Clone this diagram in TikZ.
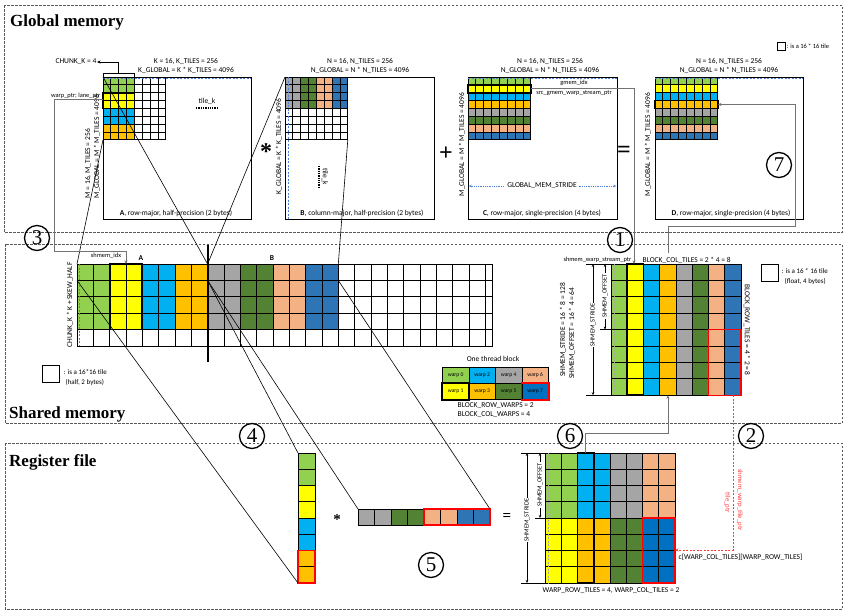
\documentclass[tikz,border=0pt]{standalone}
\usepackage{fontspec}
\setmainfont{Liberation Serif}
\newfontfamily\calib{Carlito}
\newfontfamily\tms{Liberation Serif}
\usetikzlibrary{arrows.meta,calc}
\definecolor{cG}{HTML}{92D050}
\definecolor{cY}{HTML}{FFFF00}
\definecolor{cC}{HTML}{00B0F0}
\definecolor{cO}{HTML}{FFC000}
\definecolor{cS}{HTML}{A5A5A5}
\definecolor{cD}{HTML}{548235}
\definecolor{cP}{HTML}{F4B183}
\definecolor{cB}{HTML}{2E75B6}
\definecolor{cBB}{HTML}{0070C0}
\definecolor{cLB}{HTML}{4F81D9}
\definecolor{cRd}{HTML}{FF3B3B}
\newcommand\lblfont{\calib\fontsize{7.5}{8}\selectfont}
\newcommand\midfont{\calib\fontsize{7}{8}\selectfont}
\newcommand\smlfont{\calib\fontsize{6.4}{7}\selectfont}
\newcommand\redfont{\calib\fontsize{6.8}{7}\selectfont}
\newcommand\wfont{\calib\fontsize{5.6}{6}\selectfont}
\newcommand\ttlfont{\tms\bfseries\fontsize{17}{18}\selectfont}
\newcommand\circfont{\tms\fontsize{21}{21}\selectfont}
\newcommand\opfont{\tms\bfseries\fontsize{24}{24}\selectfont}
\newcommand\mkgrid[6]{%
  \foreach \ii in {0,...,#5}{\draw[gline] ({#1+\ii*#3},{#2}) -- ++(0,{#6*#4});}%
  \foreach \jj in {0,...,#6}{\draw[gline] ({#1},{#2+\jj*#4}) -- ++({#5*#3},0);}%
}
\begin{document}
\begin{tikzpicture}[x=1pt,y=-1pt,
  lbl/.style={font=\lblfont, inner sep=0.5pt},
  mid/.style={font=\midfont, inner sep=0.5pt},
  sml/.style={font=\smlfont, inner sep=0.5pt},
  ttl/.style={font=\ttlfont, inner sep=0pt},
  circnum/.style={circle, draw, line width=1.3pt, minimum size=25pt, inner sep=0pt, font=\circfont},
  opsym/.style={font=\opfont, inner sep=0pt},
  gline/.style={line width=0.75pt, draw=black},
  thk/.style={line width=1.7pt, draw=black},
  redb/.style={line width=1.4pt, draw=red},
  bigbox/.style={draw, line width=0.9pt, inner sep=0pt, anchor=north west},
  conn/.style={line width=0.7pt, draw=black!55},
  xline/.style={line width=0.6pt, draw=black},
  bdash/.style={draw=cLB, line width=0.6pt, dash pattern=on 2pt off 1.5pt},
  panel/.style={draw=black!65, dash pattern=on 2.5pt off 1.5pt, line width=0.6pt},
  arr/.style={-{Stealth[length=3.5pt,width=3pt]}},
  dimarr/.style={{Stealth[length=3pt,width=2.5pt]}-{Stealth[length=3pt,width=2.5pt]}, line width=0.6pt},
  wcell/.style={draw, line width=0.8pt, minimum width=26.5pt, minimum height=16pt, inner sep=0pt, font=\wfont, anchor=north west},
  redtxt/.style={font=\redfont, inner sep=0.5pt, text=cRd}
]
\useasboundingbox (0,0) rectangle (846,611);
\fill[white] (0,0) rectangle (846,611);

% ---------- panels
\draw[panel] (4,5) rectangle (842,232);
\draw[panel] (5,244) rectangle (842,423);
\draw[panel] (5,443) rectangle (842,609);
\node[ttl, anchor=base west] (tG) at (10,26) {Global memory};
\node[ttl, anchor=base west] (tS) at (9,418) {Shared memory};
\node[ttl, anchor=base west] (tR) at (9,466) {Register file};

% top-right legend
\node[draw, line width=0.8pt, minimum size=8pt, inner sep=0pt] (lg1) at (781,46) {};
\node[sml, anchor=west] (lg1t) at (786,46) {: is a 16 * 16 tile};

% ================= Global A
\node[bigbox, minimum width=148pt, minimum height=142pt] (Abig) at (103,77) {};
\foreach \r/\cc in {0/cG,1/cG,2/cY,3/cY,4/cC,5/cC,6/cO,7/cO}
  \fill[\cc] (103,{77+\r*7.85}) rectangle ++(31.4,7.85);
\mkgrid{103}{77}{7.85}{7.85}{8}{8}
\draw[thk] (103,{77+2*7.85}) rectangle ++(31.4,15.7);
\draw[bdash] (103,78) -- (251,78);
\node[lbl] (Ak1) at (186,61) {K = 16, K\_TILES = 256};
\node[lbl] (Ak2) at (186,70) {K\_GLOBAL = K * K\_TILES = 4096};
\node[lbl, rotate=90, anchor=west] (Am1) at (88,199) {M = 16, M\_TILES = 256};
\node[lbl, rotate=90, anchor=west] (Am2) at (97,199) {M\_GLOBAL = M * M\_TILES = 4096};
\node[lbl] (Atk) at (207,101) {tile\_k};
\draw[densely dotted, line width=1.3pt] (196,108) -- (217,108);
\node[lbl] (Acap) at (176,213) {\textbf{A}, row-major, half-precision (2 bytes)};
\node[draw, line width=0.6pt, minimum width=31.4pt, minimum height=4pt, inner sep=0pt] (chb) at (118.7,75) {};
\node[lbl, anchor=east] (chk) at (97,62) {CHUNK\_K = 4};
\draw[line width=0.6pt, arr] (chb.north) |- (chk.east);
\node[sml, anchor=base east] (wp) at (101,97) {warp\_ptr; lane\_ptr};

% ================= Global B
\node[bigbox, minimum width=149pt, minimum height=142pt] (Bbig) at (285,77) {};
\foreach \c/\cc in {0/cS,1/cS,2/cD,3/cD,4/cP,5/cP,6/cB,7/cB}
  \fill[\cc] ({285+\c*7.85},77) rectangle ++(7.85,31.4);
\mkgrid{285}{77}{7.85}{7.85}{8}{8}
\draw[bdash] (288,77) -- (288,219);
\node[lbl] (Bn1) at (360,61) {N = 16, N\_TILES = 256};
\node[lbl] (Bn2) at (360,70) {N\_GLOBAL = N * N\_TILES = 4096};
\node[lbl, rotate=90, anchor=west] (Bk) at (279,195) {K\_GLOBAL = K * K\_TILES = 4096};
\node[lbl, rotate=-90] (Btk) at (325,177) {tile\_k};
\draw[densely dotted, line width=1.3pt] (319,166) -- (319,188);
\node[lbl] (Bcap) at (362,213) {\textbf{B}, column-major, half-precision (2 bytes)};

% ================= Global C
\node[bigbox, minimum width=149pt, minimum height=142pt] (Cbig) at (468,77) {};
\foreach \r/\cc in {0/cG,1/cY,2/cC,3/cO,4/cS,5/cD,6/cP,7/cB}
  \fill[\cc] (468,{77+\r*7.85}) rectangle ++(62.8,7.85);
\mkgrid{468}{77}{7.85}{7.85}{8}{8}
\draw[thk] (468,{77+7.85}) rectangle ++(62.8,7.85);
\draw[bdash] (468,78) -- (617,78);
\node[lbl] (Cn1) at (550,61) {N = 16, N\_TILES = 256};
\node[lbl] (Cn2) at (550,70) {N\_GLOBAL = N * N\_TILES = 4096};
\node[lbl, rotate=90, anchor=west] (Cm) at (462,197) {M\_GLOBAL = M * M\_TILES = 4096};
\node[sml] (gidx) at (574,83) {gmem\_idx};
\node[sml] (gsrc) at (574,93.5) {src\_gmem\_warp\_stream\_ptr};
\coordinate (gsL) at (469,186);
\coordinate (gsR) at (616,186);
\draw[draw=cLB, densely dotted, line width=0.8pt, {Stealth[length=2.5pt,width=2.5pt]}-{Stealth[length=2.5pt,width=2.5pt]}] (gsL) -- (gsR);
\node[lbl, fill=white, inner sep=2pt] (gms) at (542,186) {GLOBAL\_MEM\_STRIDE};
\node[lbl] (Ccap) at (542,213) {\textbf{C}, row-major, single-precision (4 bytes)};

% ================= Global D
\node[bigbox, minimum width=148pt, minimum height=142pt] (Dbig) at (655,77) {};
\foreach \r/\cc in {0/cG,1/cY,2/cC,3/cO,4/cS,5/cD,6/cP,7/cB}
  \fill[\cc] (655,{77+\r*7.85}) rectangle ++(62.8,7.85);
\mkgrid{655}{77}{7.85}{7.85}{8}{8}
\draw[thk] (655,{77+3*7.85}) rectangle ++(62.8,7.85);
\draw[bdash] (655,78) -- (803,78);
\node[lbl] (Dn1) at (729,61) {N = 16, N\_TILES = 256};
\node[lbl] (Dn2) at (729,70) {N\_GLOBAL = N * N\_TILES = 4096};
\node[lbl, rotate=90, anchor=west] (Dm) at (648,197) {M\_GLOBAL = M * M\_TILES = 4096};
\node[lbl] (Dcap) at (731,213) {\textbf{D}, row-major, single-precision (4 bytes)};

% operators
\node[opsym] (op1) at (266,152) {*};
\node[opsym] (op2) at (446,154) {+};
\node[opsym] (op3) at (624,152) {=};

% circled numbers
\node[circnum] (n3) at (37,238) {3};
\node[circnum] (n1) at (620,240) {1};
\node[circnum] (n7) at (779,165) {7};
\node[circnum] (n4) at (252,436) {4};
\node[circnum] (n5) at (431,565) {5};
\node[circnum] (n6) at (570,436) {6};
\node[circnum] (n2) at (751,436) {2};

% ================= Shared A/B
\foreach \c/\cc in {0/cG,1/cG,2/cY,3/cY,4/cC,5/cC,6/cO,7/cO,8/cS,9/cS,10/cD,11/cD,12/cP,13/cP,14/cB,15/cB}
  \fill[\cc] ({77+\c*16.33},264) rectangle ++(16.33,65.6);
\mkgrid{77}{264}{16.33}{16.4}{25}{5}
\draw[gline] (485.25,264) rectangle (492.5,346);
\foreach \jj in {1,...,4}{\draw[gline] (485.25,{264+\jj*16.4}) -- ++(7.25,0);}
\draw[thk] ({77+2*16.33},264) rectangle ++(32.66,65.6);
\draw[bdash] (78.8,264) -- (78.8,346);
\node[lbl, font=\lblfont\bfseries] (SA) at (141,258) {A};
\node[lbl, font=\lblfont\bfseries] (SB) at (272,258) {B};
\node[sml] (sidx) at (106,256) {shmem\_idx};
\node[lbl, rotate=90] (Sck) at (70,305) {CHUNK\_K * K + SKEW\_HALF};
\draw[line width=2pt] (207.6,245) -- (207.6,362);
\node[draw, line width=0.9pt, minimum size=17pt, inner sep=0pt] (lg2) at (51,374) {};
\node[mid, anchor=west] (lg2a) at (63,372) {: is a 16*16 tile};
\node[mid, anchor=west] (lg2b) at (65,382) {(half, 2 bytes)};

% warp legend
\node[lbl] (otb) at (493,359) {One thread block};
\foreach \c/\ca/\cb/\na/\nb in {0/cG/cY/0/1,1/cC/cO/2/3,2/cS/cD/4/5,3/cP/cBB/6/7}{
  \node[wcell, fill=\ca] (w\na) at ({442+\c*26.5},367) {warp \na};
  \node[wcell, fill=\cb] (w\nb) at ({442+\c*26.5},383) {warp \nb};
}
\draw[thk] (w1.north west) rectangle (w1.south east);
\draw[redb] (w7.north west) rectangle (w7.south east);
\node[lbl, anchor=west] (brw) at (457,406) {BLOCK\_ROW\_WARPS = 2};
\node[lbl, anchor=west] (bcw) at (457,415) {BLOCK\_COL\_WARPS = 4};

% ================= Shared right (C/D tile)
\foreach \c/\cc in {0/cG,1/cY,2/cC,3/cO,4/cS,5/cD,6/cP,7/cB}
  \fill[\cc] ({611+\c*16.25},264) rectangle ++(16.25,131.2);
\mkgrid{611}{264}{16.25}{16.4}{8}{8}
\draw[thk] ({611+16.25},264) rectangle ++(16.25,131.2);
\draw[redb] ({611+6*16.25},{264+4*16.4}) rectangle ++(32.5,65.6);
\draw[bdash, draw=black!35] (614,264) -- (614,395);
\node[sml, anchor=east] (swsp) at (632,260) {shmem\_warp\_stream\_ptr};
\node[lbl, anchor=west] (bct) at (642,260) {BLOCK\_COL\_TILES = 2 * 4 = 8};
\node[lbl, rotate=-90] (brt) at (747,330) {BLOCK\_ROW\_TILES = 4 * 2 = 8};
\node[lbl, rotate=90] (sst) at (563,330) {SHMEM\_STRIDE = 16 * 8 = 128};
\node[lbl, rotate=90] (sso) at (572,333) {SHMEM\_OFFSET = 16 * 4 = 64};
\draw[line width=0.6pt] (586,264) -- (611,264);
\draw[line width=0.6pt] (586,395.2) -- (611,395.2);
\draw[line width=0.6pt] (600,329.6) -- (611,329.6);
\draw[dimarr] (593,264) -- (593,395.2);
\draw[dimarr] (605,264) -- (605,329.6);
\node[sml, rotate=90, fill=white, inner sep=1pt] (dss) at (593,325) {SHMEM\_STRIDE};
\node[sml, rotate=90, fill=white, inner sep=1pt] (dso) at (605,296) {SHMEM\_OFFSET};
\node[draw, line width=0.9pt, minimum size=17pt, inner sep=0pt] (lg3) at (769.5,273) {};
\node[mid, anchor=west] (lg3a) at (781,271) {: is a 16 * 16 tile};
\node[mid, anchor=west] (lg3b) at (784,281) {(float, 4 bytes)};

% ================= Register file
% A fragment
\foreach \r/\cc in {0/cG,1/cG,2/cY,3/cY,4/cC,5/cC,6/cO,7/cO}
  \fill[\cc] (298,{453+\r*16.25}) rectangle ++(17,16.25);
\mkgrid{298}{453}{17}{16.25}{1}{8}
\draw[redb] (298,{453+6*16.25}) rectangle ++(17,32.5);
\node[opsym, font=\tms\bfseries\fontsize{15}{15}\selectfont] (op4) at (337,520) {*};
% B fragment
\foreach \c/\cc in {0/cS,1/cS,2/cD,3/cD,4/cP,5/cP,6/cB,7/cB}
  \fill[\cc] ({358+\c*16.5},509) rectangle ++(16.5,16);
\mkgrid{358}{509}{16.5}{16}{8}{1}
\draw[redb] ({358+4*16.5},509) rectangle ++(66,16);
\node[opsym, font=\tms\bfseries\fontsize{15}{15}\selectfont] (op5) at (507,517) {=};
% C fragment
\foreach \c/\ca/\cb in {0/cG/cY,1/cG/cY,2/cC/cO,3/cC/cO,4/cS/cD,5/cS/cD,6/cP/cBB,7/cP/cBB}{
  \fill[\ca] ({545+\c*16.25},453) rectangle ++(16.25,65);
  \fill[\cb] ({545+\c*16.25},518) rectangle ++(16.25,65);
}
\mkgrid{545}{453}{16.25}{16.25}{8}{8}
\draw[thk] ({545+2*16.25},453) rectangle ++(16.25,130);
\draw[redb] ({545+6*16.25},518) rectangle ++(32.5,65);
\draw[bdash, draw=black!35] (548,453) -- (548,583);
\draw[line width=0.6pt] (521,453) -- (545,453);
\draw[line width=0.6pt] (521,583) -- (545,583);
\draw[line width=0.6pt] (535,518) -- (545,518);
\draw[dimarr] (527,453) -- (527,583);
\draw[dimarr] (540,453) -- (540,518);
\node[sml, rotate=90, fill=white, inner sep=1pt] (rds) at (527,520) {SHMEM\_STRIDE};
\node[sml, rotate=90, fill=white, inner sep=1pt] (rdo) at (540,485) {SHMEM\_OFFSET};
\node[lbl, anchor=west] (cwt) at (678,557) {c[WARP\_COL\_TILES][WARP\_ROW\_TILES]};
\node[lbl] (wrt) at (611,591) {WARP\_ROW\_TILES = 4, WARP\_COL\_TILES = 2};
\node[redtxt, rotate=-90] (swtp) at (740,500) {shmem\_warp\_tile\_ptr};
\node[redtxt, rotate=-90] (tptr) at (727.5,503) {tile\_ptr};

% ================= connectors
\coordinate (Atl) at (103,77);
\coordinate (Abl) at (103,139.8);
\coordinate (Btl) at (285,77);
\coordinate (Bbr) at (347.8,139.8);
\coordinate (Sl) at (77,264);
\coordinate (Sm) at (207.6,264);
\coordinate (Sr) at (338.3,264);
\coordinate (S1l) at (77,280.4);
\coordinate (S1m) at (207.6,280.4);
\coordinate (S1r) at (338.3,280.4);
\coordinate (RAt) at (298,453);
\coordinate (RAb) at (298,583);
\coordinate (RBl) at (358,509);
\coordinate (RBr) at (490,509);
\draw[xline] (Atl) -- (Sm);
\draw[xline] (Abl) -- (Sl);
\draw[xline] (Btl) -- (Sm);
\draw[xline] (Bbr) -- (Sr);
\draw[xline] (S1l) -- (RAb);
\draw[xline] (S1m) -- (RAt);
\draw[xline] (S1m) -- (RBl);
\draw[xline] (S1r) -- (RBr);

% (3) warp_ptr -> shmem_idx
\coordinate (wpA) at (103,99);
\coordinate (wp1) at (54,99);
\coordinate (smTop) at (126,264);
\draw[conn, arr] (wpA) -- (wp1) |- ($(smTop)+(0,-13)$) -- (smTop);
% (1) C -> shared
\coordinate (Cr) at (530.8,88.8);
\coordinate (St1) at (634,264);
\draw[conn, arr] (Cr) -| (St1);
% (7) shared -> D
\coordinate (s7) at (668,253);
\coordinate (Dr) at (717.8,104.5);
\coordinate (k7) at (795,226);
\draw[conn, arr] (s7) |- (k7) |- (Dr);
% (6) register -> shared
\coordinate (Rc2) at (585.6,453);
\coordinate (Sb3) at (667.9,395.2);
\draw[conn, arr] (Rc2) -- ++(0,-20) -| (Sb3);
% (2) shared -> register (red dashed)
\coordinate (Sb7) at (732.9,395.2);
\coordinate (Rr) at (675,550);
\draw[draw=cRd, dash pattern=on 2pt off 1.5pt, line width=0.6pt, arr] (Sb7) |- (Rr);
\end{tikzpicture}
\end{document}
